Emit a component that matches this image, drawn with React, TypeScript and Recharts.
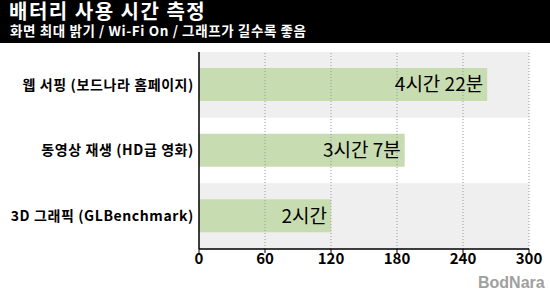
import React from "react";
import {
  BarChart,
  Bar,
  XAxis,
  YAxis,
  ReferenceArea,
  ReferenceLine,
  LabelList,
} from "recharts";

const categories = [
  "웹 서핑 (보드나라 홈페이지)",
  "동영상 재생 (HD급 영화)",
  "3D 그래픽 (GLBenchmark)",
];
const minutes = [262, 187, 120];
const valueLabels = ["4시간 22분", "3시간 7분", "2시간"];
const xTicks = [0, 60, 120, 180, 240, 300];
const shadedRows = [categories[0], categories[2]];

const FONT = '"Noto Sans CJK KR", "Noto Sans", sans-serif';
const BAR_COLOR = "#c8dcb2";
const BAND_COLOR = "#efefef";

const data = categories.map((name, i) => ({
  name,
  minutes: minutes[i],
  label: valueLabels[i],
}));

export default function App() {
  return (
    <div
      style={{
        position: "relative",
        width: 550,
        height: 300,
        background: "#fff",
        fontFamily: FONT,
        overflow: "hidden",
      }}
    >
      <style>{"body{margin:0}"}</style>
      <div
        style={{
          position: "absolute",
          left: 0,
          top: 0,
          width: 550,
          height: 43,
          background: "#000",
          color: "#fff",
          fontWeight: 700,
        }}
      >
        <div
          style={{
            position: "absolute",
            left: 9,
            top: 1,
            fontSize: 20,
            lineHeight: "20px",
            letterSpacing: 1.5,
            whiteSpace: "nowrap",
          }}
        >
          배터리 사용 시간 측정
        </div>
        <div
          style={{
            position: "absolute",
            left: 10,
            top: 22,
            fontSize: 13.5,
            lineHeight: "17px",
            letterSpacing: 0.6,
            whiteSpace: "nowrap",
          }}
        >
          화면 최대 밝기 / Wi-Fi On / 그래프가 길수록 좋음
        </div>
      </div>

      <BarChart
        width={550}
        height={300}
        data={data}
        layout="vertical"
        margin={{ top: 52, right: 21, bottom: 0, left: 0 }}
        barSize={33}
      >
        {shadedRows.map((row) => (
          <ReferenceArea
            key={row}
            y1={row}
            y2={row}
            fill={BAND_COLOR}
            fillOpacity={1}
            stroke="none"
          />
        ))}
        {xTicks.slice(1).map((t) => (
          <ReferenceLine
            key={t}
            x={t}
            stroke="#999"
            strokeDasharray="1 2"
          />
        ))}
        <XAxis
          type="number"
          domain={[0, 300]}
          ticks={xTicks}
          interval={0}
          height={51}
          axisLine={{ stroke: "#000", strokeWidth: 1.5 }}
          tickLine={{ stroke: "#000" }}
          tickSize={4}
          tickMargin={0}
          tick={{ fill: "#000", fontSize: 15, fontWeight: 700, fontFamily: FONT }}
        />
        <YAxis
          type="category"
          dataKey="name"
          width={199}
          axisLine={{ stroke: "#000", strokeWidth: 1.5 }}
          tickLine={false}
          tickSize={0}
          tickMargin={5}
          tick={{
            fill: "#000",
            fontSize: 14,
            fontWeight: 700,
            fontFamily: FONT,
            letterSpacing: 0.6,
          }}
        />
        <Bar dataKey="minutes" fill={BAR_COLOR} isAnimationActive={false}>
          <LabelList
            dataKey="label"
            position="insideRight"
            offset={4}
            fill="#000"
            fontSize={19}
            fontFamily={FONT}
          />
        </Bar>
      </BarChart>

      <div
        style={{
          position: "absolute",
          left: 478,
          top: 275,
          fontSize: 16,
          lineHeight: "16px",
          fontWeight: 700,
          color: "#a0a0a0",
          fontFamily: '"Liberation Sans", Arial, sans-serif',
          whiteSpace: "nowrap",
        }}
      >
        BodNara
      </div>
    </div>
  );
}
